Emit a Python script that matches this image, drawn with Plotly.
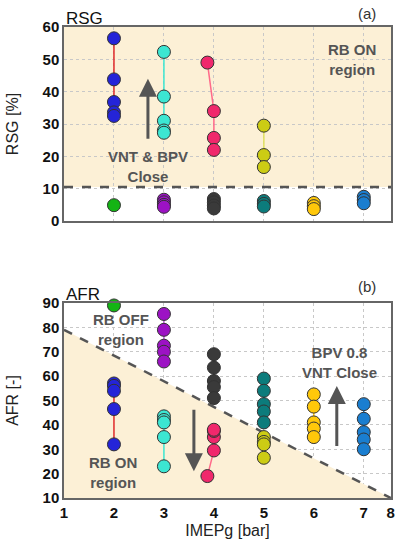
import plotly.graph_objects as go

# ---------------- data ----------------
x_range = [1, 7.545]
x_tickvals = [1, 2, 3, 4, 5, 6, 7, 7.54]
x_ticktext = ["1", "2", "3", "4", "5", "6", "7", "8"]

# RSG [%] (panel a)
rsg_blue_x = [2, 2, 2, 2, 2]
rsg_blue = [56.5, 43.8, 36.8, 33.6, 32.5]
rsg_green_x = [2]
rsg_green = [4.9]
rsg_cyan_x = [3, 3, 3, 3, 3]
rsg_cyan = [52.3, 38.5, 31.0, 28.0, 27.3]
rsg_purple_x = [3, 3, 3, 3]
rsg_purple = [6.6, 5.8, 5.0, 4.4]
rsg_pink_x = [3.87, 4, 4, 4]
rsg_pink = [49.0, 34.0, 25.7, 22.0]
rsg_black_x = [4, 4, 4, 4]
rsg_black = [6.8, 5.8, 4.8, 3.9]
rsg_olive_x = [5, 5, 5]
rsg_olive = [29.5, 20.4, 16.7]
rsg_teal_x = [5, 5, 5]
rsg_teal = [6.2, 5.3, 4.5]
rsg_gold_x = [6, 6, 6]
rsg_gold = [5.6, 4.6, 3.7]
rsg_blue2_x = [7, 7, 7]
rsg_blue2 = [7.5, 6.5, 5.5]
rsg_threshold = 10.5

# AFR [-] (panel b)
afr_blue_x = [2, 2, 2, 2, 2]
afr_blue = [57, 56, 54, 46.5, 32]
afr_green_x = [2]
afr_green = [89]
afr_cyan_x = [3, 3, 3, 3, 3]
afr_cyan = [43.5, 42, 41, 35, 23]
afr_purple_x = [3, 3, 3, 3, 3]
afr_purple = [85.5, 79, 72.5, 70, 66]
afr_pink_x = [3.87, 4, 4, 4, 4]
afr_pink = [19, 29.5, 35, 37.5, 38]
afr_black_x = [4, 4, 4, 4, 4]
afr_black = [69, 63.5, 58, 55.5, 51]
afr_olive_x = [5, 5, 5, 5]
afr_olive = [35, 33, 32, 26.5]
afr_teal_x = [5, 5, 5, 5, 5]
afr_teal = [59, 54, 48.5, 45.5, 41]
afr_gold_x = [6, 6, 6, 6, 6]
afr_gold = [52.5, 47.5, 41, 38.5, 35]
afr_blue2_x = [7, 7, 7, 7, 7]
afr_blue2 = [48.5, 42.5, 37, 34, 30]
afr_boundary_x = [1, 7.54]
afr_boundary_y = [79, 10]

# ---------------- style ----------------
C_BLUE = "#2424d8"
C_RED = "#e02a2a"
C_GREEN = "#14b414"
C_CYAN = "#3ce6d2"
C_PURPLE = "#9c12c4"
C_PINK = "#f0286c"
C_BLACK = "#3a3a3a"
C_OLIVE = "#cccc14"
C_TEAL = "#0c7c7c"
C_GOLD = "#ffc80a"
C_BLUE2 = "#1a7ed0"
SHADE = "#fcf0d6"
DGRAY = "#555555"
FONT = "Liberation Sans, Arial, sans-serif"

fig = go.Figure()


def add_series(x, y, color, line_color, xa, ya, line_w=1.5):
    fig.add_trace(go.Scatter(
        x=x, y=y, xaxis=xa, yaxis=ya, mode="lines+markers",
        line=dict(color=line_color, width=line_w),
        marker=dict(size=13, color=color, line=dict(color="#333333", width=1)),
        showlegend=False, cliponaxis=False))


# panel a
add_series(rsg_blue_x, rsg_blue, C_BLUE, C_RED, "x", "y")
add_series(rsg_green_x, rsg_green, C_GREEN, C_GREEN, "x", "y")
add_series(rsg_cyan_x, rsg_cyan, C_CYAN, C_CYAN, "x", "y")
add_series(rsg_purple_x, rsg_purple, C_PURPLE, C_PURPLE, "x", "y")
add_series(rsg_pink_x, rsg_pink, C_PINK, "#ff6a8a", "x", "y")
add_series(rsg_black_x, rsg_black, C_BLACK, C_BLACK, "x", "y")
add_series(rsg_olive_x, rsg_olive, C_OLIVE, "#e0e060", "x", "y")
add_series(rsg_teal_x, rsg_teal, C_TEAL, C_TEAL, "x", "y")
add_series(rsg_gold_x, rsg_gold, C_GOLD, C_GOLD, "x", "y")
add_series(rsg_blue2_x, rsg_blue2, C_BLUE2, C_BLUE2, "x", "y")

# panel b boundary shading
fig.add_trace(go.Scatter(
    x=[afr_boundary_x[0], afr_boundary_x[1], afr_boundary_x[0]],
    y=[afr_boundary_y[0], afr_boundary_y[1], afr_boundary_y[1]],
    xaxis="x2", yaxis="y2", mode="lines", fill="toself",
    fillcolor=SHADE, line=dict(width=0), showlegend=False, hoverinfo="skip"))
fig.add_trace(go.Scatter(
    x=afr_boundary_x, y=afr_boundary_y, xaxis="x2", yaxis="y2", mode="lines",
    line=dict(color=DGRAY, width=2.5, dash="dash"), showlegend=False))

add_series(afr_blue_x, afr_blue, C_BLUE, C_RED, "x2", "y2")
add_series(afr_green_x, afr_green, C_GREEN, C_GREEN, "x2", "y2")
add_series(afr_cyan_x, afr_cyan, C_CYAN, C_CYAN, "x2", "y2")
add_series(afr_purple_x, afr_purple, C_PURPLE, "#c060e0", "x2", "y2")
add_series(afr_pink_x, afr_pink, C_PINK, "#ff6a8a", "x2", "y2")
add_series(afr_black_x, afr_black, C_BLACK, C_BLACK, "x2", "y2")
add_series(afr_olive_x, afr_olive, C_OLIVE, "#e0e060", "x2", "y2")
add_series(afr_teal_x, afr_teal, C_TEAL, C_TEAL, "x2", "y2")
add_series(afr_gold_x, afr_gold, C_GOLD, C_GOLD, "x2", "y2")
add_series(afr_blue2_x, afr_blue2, C_BLUE2, C_BLUE2, "x2", "y2")

# shapes for panel a
shapes = [
    dict(type="rect", xref="x domain", yref="y", x0=0, x1=1, y0=rsg_threshold, y1=60,
         fillcolor=SHADE, line=dict(width=0), layer="below"),
    dict(type="line", xref="x domain", yref="y", x0=0, x1=1, y0=rsg_threshold, y1=rsg_threshold,
         line=dict(color=DGRAY, width=2.5, dash="dash"), layer="above"),
]

ax_common = dict(
    showline=True, linecolor="#666666", linewidth=1.5, mirror=True,
    showgrid=True, gridcolor="#c8c8c8", griddash="dot", gridwidth=1,
    zeroline=False, ticks="", layer="above traces", automargin=False,
    tickfont=dict(family=FONT, size=15, color="#111111", weight="bold"),
)

TITLE_FONT = dict(family=FONT, size=16, color="#222")

fig.update_layout(
    width=399, height=550,
    margin=dict(l=64, r=8, t=27, b=52),
    plot_bgcolor="white", paper_bgcolor="white",
    font=dict(family=FONT),
    xaxis=dict(ax_common, domain=[0, 1], range=x_range, anchor="y",
               tickvals=[2, 3, 4, 5, 6, 7], showticklabels=False),
    yaxis=dict(ax_common, domain=[0.588, 1], range=[0, 60], dtick=10, anchor="x",
               title=dict(text="RSG [%]", font=TITLE_FONT, standoff=20)),
    xaxis2=dict(ax_common, domain=[0, 1], range=x_range, anchor="y2",
                tickvals=x_tickvals, ticktext=x_ticktext,
                title=dict(text="IMEPg [bar]", font=TITLE_FONT, standoff=5)),
    yaxis2=dict(ax_common, domain=[0, 0.414], range=[10, 90], dtick=10, anchor="x2",
                title=dict(text="AFR [-]", font=TITLE_FONT, standoff=20)),
    shapes=shapes,
)

ann_style = dict(showarrow=False, font=dict(family=FONT, size=15, color="#555555", weight="bold"))
anns = [
    dict(text="RSG", xref="paper", yref="paper", x=0, y=1.0, xanchor="left", yanchor="bottom",
         yshift=-3, showarrow=False, font=dict(family=FONT, size=17, color="#111")),
    dict(text="(a)", xref="paper", yref="paper", x=0.96, y=1.0, xanchor="right", yanchor="bottom",
         yshift=3, showarrow=False, font=dict(family=FONT, size=15, color="#333")),
    dict(text="AFR", xref="paper", yref="paper", x=0, y=0.414, xanchor="left", yanchor="bottom",
         yshift=-3, showarrow=False, font=dict(family=FONT, size=17, color="#111")),
    dict(text="(b)", xref="paper", yref="paper", x=0.96, y=0.414, xanchor="right", yanchor="bottom",
         yshift=6, showarrow=False, font=dict(family=FONT, size=15, color="#333")),
    dict(ann_style, text="RB ON<br>region", xref="x", yref="y", x=6.76, y=50),
    dict(ann_style, text="VNT & BPV<br>Close", xref="x", yref="y", x=2.68, y=17),
    dict(ann_style, text="RB OFF<br>region", xref="x2", yref="y2", x=2.14, y=79),
    dict(ann_style, text="RB ON<br>region", xref="x2", yref="y2", x=1.98, y=20.5),
    dict(ann_style, text="BPV 0.8<br>VNT Close", xref="x2", yref="y2", x=6.52, y=65.5),
    # arrows
    dict(xref="x", yref="y", x=2.68, y=44, ax=2.68, ay=25, axref="x", ayref="y",
         showarrow=True, arrowhead=2, arrowsize=1.2, arrowwidth=3, arrowcolor="#555555", text=""),
    dict(xref="x2", yref="y2", x=3.6, y=21, ax=3.6, ay=46.8, axref="x2", ayref="y2",
         showarrow=True, arrowhead=2, arrowsize=1.2, arrowwidth=3, arrowcolor="#555555", text=""),
    dict(xref="x2", yref="y2", x=6.46, y=56, ax=6.46, ay=30.7, axref="x2", ayref="y2",
         showarrow=True, arrowhead=2, arrowsize=1.2, arrowwidth=3, arrowcolor="#555555", text=""),
]
fig.update_layout(annotations=anns)

# remove the default page margin so the figure fills the window exactly
fig.write_html("out.html", config={"displayModeBar": False},
               post_script="document.body.style.margin='0px';")
